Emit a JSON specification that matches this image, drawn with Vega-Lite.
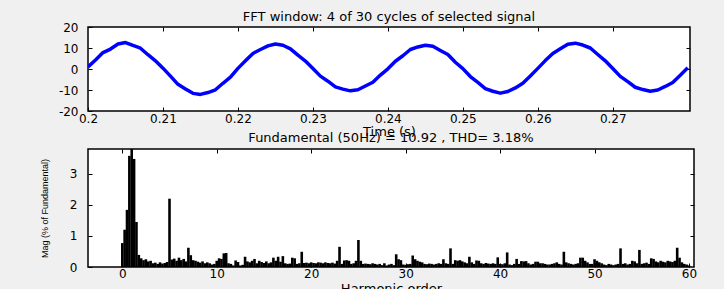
{
  "$schema": "https://vega.github.io/schema/vega-lite/v6.json",
  "background": "#f0f0f0",
  "padding": {"left": 39, "top": 10, "right": 40, "bottom": 0},
  "bounds": "flush",
  "spacing": 38,
  "config": {
    "font": "DejaVu Sans",
    "view": {"stroke": "black", "strokeWidth": 1.5, "fill": "white"},
    "axis": {
      "grid": false, "domain": false, "ticks": true, "tickSize": -4, "tickColor": "black", "tickWidth": 1,
      "labelColor": "black", "labelFont": "DejaVu Sans", "labelFontSize": 12, "labelFlush": false, "labelOverlap": false,
      "titleColor": "black", "titleFont": "DejaVu Sans", "titleFontSize": 13, "titleFontWeight": "normal"
    },
    "title": {"font": "DejaVu Sans", "fontSize": 13, "fontWeight": "normal", "color": "black"}
  },
  "datasets": {
    "signal": [
      {"t":0.200,"v":1.0},{"t":0.201,"v":4.3},{"t":0.202,"v":7.8},{"t":0.203,"v":9.5},{"t":0.204,"v":11.9},
      {"t":0.205,"v":12.6},{"t":0.206,"v":11.2},{"t":0.207,"v":9.9},{"t":0.208,"v":6.8},{"t":0.209,"v":3.9},
      {"t":0.210,"v":0.4},{"t":0.211,"v":-3.4},{"t":0.212,"v":-7.3},{"t":0.213,"v":-9.5},{"t":0.214,"v":-11.6},
      {"t":0.215,"v":-12.1},{"t":0.216,"v":-11.2},{"t":0.217,"v":-9.9},{"t":0.218,"v":-6.8},{"t":0.219,"v":-3.9},
      {"t":0.220,"v":0.3},{"t":0.221,"v":3.9},{"t":0.222,"v":7.4},{"t":0.223,"v":9.3},{"t":0.224,"v":11.0},
      {"t":0.225,"v":11.9},{"t":0.226,"v":11.3},{"t":0.227,"v":9.6},{"t":0.228,"v":6.6},{"t":0.229,"v":3.8},
      {"t":0.230,"v":0.2},{"t":0.231,"v":-3.4},{"t":0.232,"v":-5.8},{"t":0.233,"v":-8.5},{"t":0.234,"v":-9.6},
      {"t":0.235,"v":-10.4},{"t":0.236,"v":-9.9},{"t":0.237,"v":-8.1},{"t":0.238,"v":-6.3},{"t":0.239,"v":-2.9},
      {"t":0.240,"v":0.1},{"t":0.241,"v":3.7},{"t":0.242,"v":6.3},{"t":0.243,"v":9.3},{"t":0.244,"v":10.5},
      {"t":0.245,"v":11.3},{"t":0.246,"v":10.8},{"t":0.247,"v":8.8},{"t":0.248,"v":6.9},{"t":0.249,"v":3.2},
      {"t":0.250,"v":0.2},{"t":0.251,"v":-3.6},{"t":0.252,"v":-6.4},{"t":0.253,"v":-9.3},{"t":0.254,"v":-10.6},
      {"t":0.255,"v":-11.5},{"t":0.256,"v":-10.7},{"t":0.257,"v":-9.0},{"t":0.258,"v":-6.8},{"t":0.259,"v":-3.3},
      {"t":0.260,"v":0.3},{"t":0.261,"v":4.0},{"t":0.262,"v":7.4},{"t":0.263,"v":9.6},{"t":0.264,"v":11.8},
      {"t":0.265,"v":12.3},{"t":0.266,"v":11.4},{"t":0.267,"v":10.0},{"t":0.268,"v":6.9},{"t":0.269,"v":3.9},
      {"t":0.270,"v":0.2},{"t":0.271,"v":-3.5},{"t":0.272,"v":-6.0},{"t":0.273,"v":-8.7},{"t":0.274,"v":-9.8},
      {"t":0.275,"v":-10.6},{"t":0.276,"v":-10.0},{"t":0.277,"v":-8.3},{"t":0.278,"v":-6.4},{"t":0.279,"v":-3.0},
      {"t":0.280,"v":0.6}
    ],
    "spectrum": [
      {"h":0,"m":0.77},{"h":0.25,"m":1.2},{"h":0.5,"m":1.84},{"h":0.75,"m":3.58},
      {"h":1,"m":100},{"h":1.25,"m":3.48},{"h":1.5,"m":1.45},{"h":1.75,"m":0.39},
      {"h":2,"m":0.28},{"h":2.25,"m":0.22},{"h":2.5,"m":0.25},{"h":2.75,"m":0.18},
      {"h":3,"m":0.2},{"h":3.25,"m":0.12},{"h":3.5,"m":0.14},{"h":3.75,"m":0.1},
      {"h":4,"m":0.15},{"h":4.25,"m":0.11},{"h":4.5,"m":0.13},{"h":4.75,"m":0.16},
      {"h":5,"m":2.2},{"h":5.25,"m":0.24},{"h":5.5,"m":0.27},{"h":5.75,"m":0.2},
      {"h":6,"m":0.3},{"h":6.25,"m":0.22},{"h":6.5,"m":0.26},{"h":6.75,"m":0.18},
      {"h":7,"m":0.62},{"h":7.25,"m":0.38},{"h":7.5,"m":0.22},{"h":7.75,"m":0.2},
      {"h":8,"m":0.17},{"h":8.25,"m":0.14},{"h":8.5,"m":0.18},{"h":8.75,"m":0.12},
      {"h":9,"m":0.15},{"h":9.25,"m":0.12},{"h":9.5,"m":0.08},{"h":9.75,"m":0.1},
      {"h":10,"m":0.2},{"h":10.25,"m":0.28},{"h":10.5,"m":0.26},{"h":10.75,"m":0.44},
      {"h":11,"m":0.45},{"h":11.25,"m":0.12},{"h":11.5,"m":0.1},{"h":11.75,"m":0.05},
      {"h":12,"m":0.21},{"h":12.25,"m":0.16},{"h":12.5,"m":0.05},{"h":12.75,"m":0.07},
      {"h":13,"m":0.33},{"h":13.25,"m":0.18},{"h":13.5,"m":0.15},{"h":13.75,"m":0.2},
      {"h":14,"m":0.26},{"h":14.25,"m":0.12},{"h":14.5,"m":0.2},{"h":14.75,"m":0.16},
      {"h":15,"m":0.13},{"h":15.25,"m":0.18},{"h":15.5,"m":0.12},{"h":15.75,"m":0.15},
      {"h":16,"m":0.3},{"h":16.25,"m":0.2},{"h":16.5,"m":0.33},{"h":16.75,"m":0.17},
      {"h":17,"m":0.35},{"h":17.25,"m":0.12},{"h":17.5,"m":0.1},{"h":17.75,"m":0.11},
      {"h":18,"m":0.3},{"h":18.25,"m":0.28},{"h":18.5,"m":0.1},{"h":18.75,"m":0.12},
      {"h":19,"m":0.49},{"h":19.25,"m":0.13},{"h":19.5,"m":0.14},{"h":19.75,"m":0.12},
      {"h":20,"m":0.15},{"h":20.25,"m":0.13},{"h":20.5,"m":0.12},{"h":20.75,"m":0.15},
      {"h":21,"m":0.14},{"h":21.25,"m":0.12},{"h":21.5,"m":0.15},{"h":21.75,"m":0.13},
      {"h":22,"m":0.12},{"h":22.25,"m":0.14},{"h":22.5,"m":0.11},{"h":22.75,"m":0.2},
      {"h":23,"m":0.65},{"h":23.25,"m":0.1},{"h":23.5,"m":0.21},{"h":23.75,"m":0.22},
      {"h":24,"m":0.2},{"h":24.25,"m":0.1},{"h":24.5,"m":0.12},{"h":24.75,"m":0.2},
      {"h":25,"m":0.87},{"h":25.25,"m":0.2},{"h":25.5,"m":0.1},{"h":25.75,"m":0.11},
      {"h":26,"m":0.1},{"h":26.25,"m":0.09},{"h":26.5,"m":0.12},{"h":26.75,"m":0.1},
      {"h":27,"m":0.08},{"h":27.25,"m":0.1},{"h":27.5,"m":0.06},{"h":27.75,"m":0.12},
      {"h":28,"m":0.05},{"h":28.25,"m":0.08},{"h":28.5,"m":0.1},{"h":28.75,"m":0.06},
      {"h":29,"m":0.41},{"h":29.25,"m":0.25},{"h":29.5,"m":0.22},{"h":29.75,"m":0.08},
      {"h":30,"m":0.07},{"h":30.25,"m":0.09},{"h":30.5,"m":0.1},{"h":30.75,"m":0.37},
      {"h":31,"m":0.25},{"h":31.25,"m":0.2},{"h":31.5,"m":0.17},{"h":31.75,"m":0.15},
      {"h":32,"m":0.1},{"h":32.25,"m":0.09},{"h":32.5,"m":0.11},{"h":32.75,"m":0.1},
      {"h":33,"m":0.08},{"h":33.25,"m":0.1},{"h":33.5,"m":0.12},{"h":33.75,"m":0.1},
      {"h":34,"m":0.25},{"h":34.25,"m":0.12},{"h":34.5,"m":0.1},{"h":34.75,"m":0.6},
      {"h":35,"m":0.1},{"h":35.25,"m":0.22},{"h":35.5,"m":0.2},{"h":35.75,"m":0.22},
      {"h":36,"m":0.18},{"h":36.25,"m":0.15},{"h":36.5,"m":0.12},{"h":36.75,"m":0.33},
      {"h":37,"m":0.15},{"h":37.25,"m":0.1},{"h":37.5,"m":0.21},{"h":37.75,"m":0.2},
      {"h":38,"m":0.12},{"h":38.25,"m":0.1},{"h":38.5,"m":0.13},{"h":38.75,"m":0.11},
      {"h":39,"m":0.1},{"h":39.25,"m":0.12},{"h":39.5,"m":0.1},{"h":39.75,"m":0.31},
      {"h":40,"m":0.1},{"h":40.25,"m":0.09},{"h":40.5,"m":0.12},{"h":40.75,"m":0.47},
      {"h":41,"m":0.08},{"h":41.25,"m":0.06},{"h":41.5,"m":0.1},{"h":41.75,"m":0.26},
      {"h":42,"m":0.1},{"h":42.25,"m":0.19},{"h":42.5,"m":0.18},{"h":42.75,"m":0.19},
      {"h":43,"m":0.12},{"h":43.25,"m":0.08},{"h":43.5,"m":0.1},{"h":43.75,"m":0.17},
      {"h":44,"m":0.17},{"h":44.25,"m":0.12},{"h":44.5,"m":0.12},{"h":44.75,"m":0.1},
      {"h":45,"m":0.08},{"h":45.25,"m":0.08},{"h":45.5,"m":0.1},{"h":45.75,"m":0.12},
      {"h":46,"m":0.15},{"h":46.25,"m":0.1},{"h":46.5,"m":0.08},{"h":46.75,"m":0.49},
      {"h":47,"m":0.15},{"h":47.25,"m":0.12},{"h":47.5,"m":0.1},{"h":47.75,"m":0.08},
      {"h":48,"m":0.1},{"h":48.25,"m":0.12},{"h":48.5,"m":0.3},{"h":48.75,"m":0.3},
      {"h":49,"m":0.2},{"h":49.25,"m":0.15},{"h":49.5,"m":0.1},{"h":49.75,"m":0.1},
      {"h":50,"m":0.25},{"h":50.25,"m":0.2},{"h":50.5,"m":0.15},{"h":50.75,"m":0.12},
      {"h":51,"m":0.08},{"h":51.25,"m":0.06},{"h":51.5,"m":0.1},{"h":51.75,"m":0.08},
      {"h":52,"m":0.06},{"h":52.25,"m":0.08},{"h":52.5,"m":0.1},{"h":52.75,"m":0.6},
      {"h":53,"m":0.1},{"h":53.25,"m":0.12},{"h":53.5,"m":0.08},{"h":53.75,"m":0.1},
      {"h":54,"m":0.2},{"h":54.25,"m":0.18},{"h":54.5,"m":0.12},{"h":54.75,"m":0.55},
      {"h":55,"m":0.1},{"h":55.25,"m":0.12},{"h":55.5,"m":0.14},{"h":55.75,"m":0.1},
      {"h":56,"m":0.28},{"h":56.25,"m":0.26},{"h":56.5,"m":0.18},{"h":56.75,"m":0.15},
      {"h":57,"m":0.2},{"h":57.25,"m":0.17},{"h":57.5,"m":0.15},{"h":57.75,"m":0.2},
      {"h":58,"m":0.18},{"h":58.25,"m":0.16},{"h":58.5,"m":0.2},{"h":58.75,"m":0.62},
      {"h":59,"m":0.3},{"h":59.25,"m":0.15},{"h":59.5,"m":0.1},{"h":59.75,"m":0.08},
      {"h":60,"m":0.05}
    ]
  },
  "vconcat": [
    {
      "width": 602,
      "height": 84,
      "title": {"text": "FFT window: 4 of 30 cycles of selected signal", "offset": -3},
      "data": {"name": "signal"},
      "layer": [
        {
          "mark": {"type": "line", "color": "#0000ff", "strokeWidth": 3.5, "strokeJoin": "round", "clip": true},
          "encoding": {
            "x": {"field": "t", "type": "quantitative",
                  "scale": {"domain": [0.2, 0.2803], "nice": false, "zero": false},
                  "axis": {"values": [0.2, 0.21, 0.22, 0.23, 0.24, 0.25, 0.26, 0.27], "labelExpr": "'' + datum.value",
                           "title": "Time (s)", "labelPadding": 6, "titleY": 14, "titleBaseline": "top"}},
            "y": {"field": "v", "type": "quantitative",
                  "scale": {"domain": [-20, 20], "nice": false},
                  "axis": {"values": [-20, -10, 0, 10, 20], "labelExpr": "'' + datum.value", "title": null, "labelPadding": 14}}
          }
        },
        {
          "mark": {"type": "line", "opacity": 0, "clip": true},
          "encoding": {
            "x": {"field": "t", "type": "quantitative",
                  "axis": {"orient": "top", "values": [0.21, 0.22, 0.23, 0.24, 0.25, 0.26, 0.27], "labels": false, "title": null}},
            "y": {"field": "v", "type": "quantitative",
                  "axis": {"orient": "right", "values": [-10, 0, 10], "labels": false, "title": null}}
          }
        }
      ],
      "resolve": {"axis": {"x": "independent", "y": "independent"}}
    },
    {
      "width": 606,
      "height": 118,
      "title": {"text": "Fundamental (50Hz) = 10.92 , THD= 3.18%", "offset": 4},
      "data": {"name": "spectrum"},
      "layer": [
        {
          "mark": {"type": "bar", "color": "black", "width": 2.6, "clip": true},
          "encoding": {
            "x": {"field": "h", "type": "quantitative",
                  "scale": {"domain": [-3.1, 60], "nice": false, "zero": false},
                  "axis": {"values": [0, 10, 20, 30, 40, 50, 60], "title": "Harmonic order", "labelPadding": 5,
                           "titleY": 15, "titleBaseline": "top"}},
            "y": {"field": "m", "type": "quantitative",
                  "scale": {"domain": [0, 3.8], "nice": false, "clamp": true},
                  "axis": {"values": [0, 1, 2, 3], "title": "Mag (% of Fundamental)", "labelPadding": 15,
                           "titleX": -39, "titleY": 59, "titleAngle": 270, "titleAlign": "center", "titleBaseline": "bottom",
                           "titleFont": "Liberation Sans", "titleFontSize": 9}}
          }
        },
        {
          "mark": {"type": "bar", "opacity": 0, "clip": true},
          "encoding": {
            "x": {"field": "h", "type": "quantitative",
                  "axis": {"orient": "top", "values": [0, 10, 20, 30, 40, 50], "labels": false, "title": null}},
            "y": {"field": "m", "type": "quantitative",
                  "axis": {"orient": "right", "values": [1, 2, 3], "labels": false, "title": null}}
          }
        }
      ],
      "resolve": {"axis": {"x": "independent", "y": "independent"}}
    }
  ]
}
